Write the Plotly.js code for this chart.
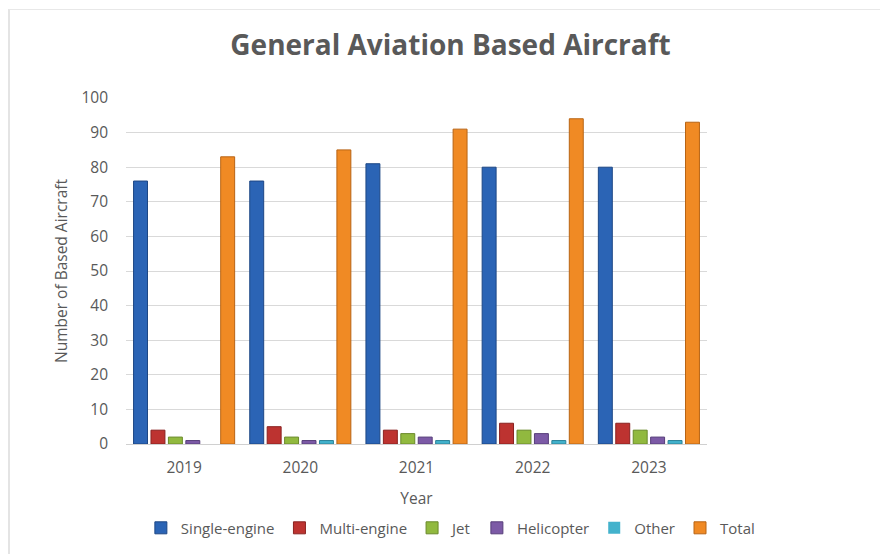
<!DOCTYPE html>
<html>
<head>
<meta charset="utf-8">
<script src="https://cdn.plot.ly/plotly-3.0.1.min.js"></script>
<style>
  html, body { margin: 0; padding: 0; background: #ffffff; }
  #wrap { position: relative; width: 880px; height: 554px; overflow: hidden; }
  #chart { position: absolute; left: 0; top: 0; width: 880px; height: 554px; }
  #frame { position: absolute; left: 8px; top: 9px; width: 900px; height: 600px;
           border-left: 2px solid #e4e4e4; border-top: 1px solid #e8e8e8; pointer-events: none; }
</style>
</head>
<body>
<div id="wrap">
  <div id="chart"></div>
  <div id="frame"></div>
</div>
<script>
// Based aircraft counts by year and type
const years = ['2019', '2020', '2021', '2022', '2023'];
const singleEngine = [76, 76, 81, 80, 80];
const multiEngine  = [4, 5, 4, 6, 6];
const jet          = [2, 2, 3, 4, 4];
const helicopter   = [1, 1, 2, 3, 2];
const other        = [0, 1, 1, 1, 1];
const total        = [83, 85, 91, 94, 93];

const seriesNames = ['Single-engine', 'Multi-engine', 'Jet', 'Helicopter', 'Other', 'Total'];
const seriesData = [singleEngine, multiEngine, jet, helicopter, other, total];
const fills = ['#2b64b5', '#bd3330', '#91b93f', '#7c5aa6', '#43b2cc', '#f08a24'];
const edges = ['#1d4785', '#8a2220', '#6a8a2a', '#573e7a', '#2c8398', '#b86414'];

const traces = seriesNames.map((name, i) => ({
  type: 'bar',
  name: name,
  x: years,
  y: seriesData[i],
  marker: {
    color: fills[i],
    // no outline on empty bars so a zero count leaves no sliver
    line: { color: edges[i], width: seriesData[i].map(v => (v > 0 ? 1 : 0)) }
  },
  hoverinfo: 'x+y+name'
}));

const font = "'Open Sans', 'Noto Sans', sans-serif";

const layout = {
  width: 880,
  height: 554,
  paper_bgcolor: '#ffffff',
  plot_bgcolor: '#ffffff',
  margin: { l: 126, r: 173, t: 98, b: 110, autoexpand: false },
  barmode: 'group',
  bargap: 0.1,
  bargroupgap: 0.2,
  showlegend: true,
  title: {
    text: '<b>General Aviation Based Aircraft</b>',
    font: { family: font, size: 28, color: '#595959' },
    xref: 'container', x: 0.512, xanchor: 'center',
    yref: 'container', y: 0.918, yanchor: 'middle'
  },
  xaxis: {
    type: 'category',
    showgrid: false,
    showline: true,
    linecolor: '#d0d0d0',
    linewidth: 1,
    ticks: '',
    ticklabelstandoff: 9,
    tickfont: { family: font, size: 15.5, color: '#595959' },
    title: { text: 'Year', font: { family: font, size: 15.5, color: '#595959' }, standoff: 16 }
  },
  yaxis: {
    range: [0, 100],
    dtick: 10,
    showgrid: true,
    gridcolor: '#d9d9d9',
    gridwidth: 1,
    zeroline: false,
    showline: false,
    ticks: '',
    ticklen: 0,
    ticklabelstandoff: 17,
    tickfont: { family: font, size: 15.5, color: '#595959' },
    title: { text: 'Number of Based Aircraft', font: { family: font, size: 15.5, color: '#595959' }, standoff: 9 }
  },
  legend: {
    orientation: 'h',
    xref: 'paper', x: 1.091, xanchor: 'right',
    yref: 'paper', y: -0.243, yanchor: 'middle',
    font: { family: font, size: 15, color: '#595959' },
    traceorder: 'normal'
  }
};

Plotly.newPlot('chart', traces, layout, { displayModeBar: false, staticPlot: true });
</script>
</body>
</html>
